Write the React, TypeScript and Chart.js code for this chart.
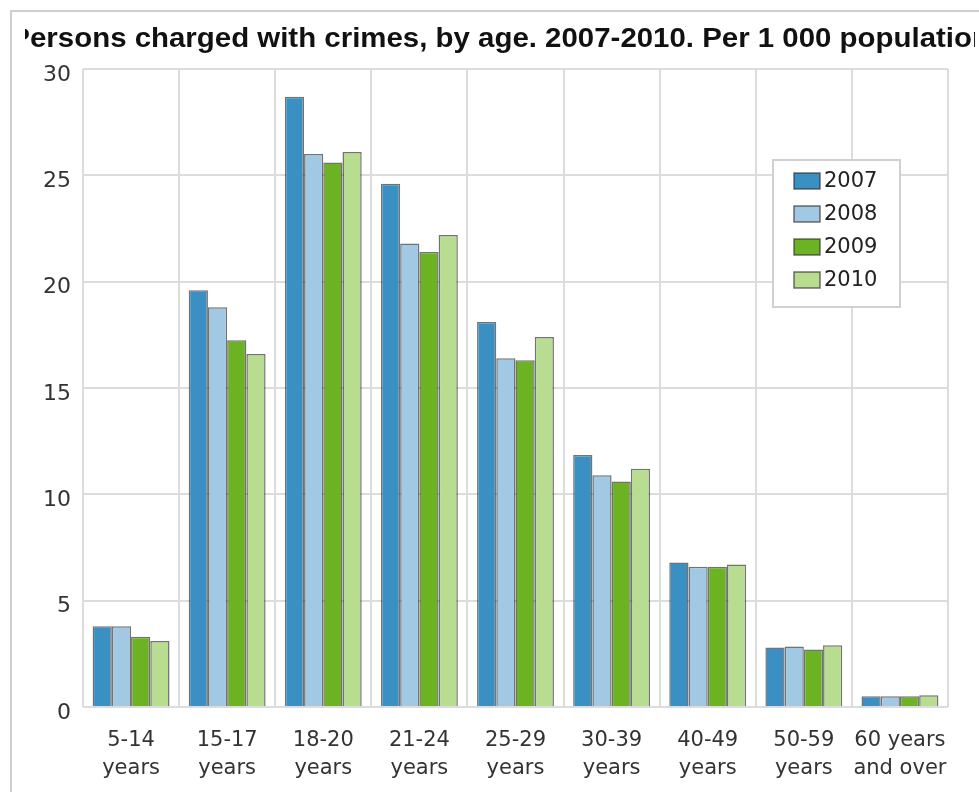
import React, { useEffect, useRef } from "react";
import { Chart, registerables } from "chart.js";

Chart.register(...registerables);

const titleText = "Persons charged with crimes, by age. 2007-2010. Per 1 000 population";
const categories: string[][] = [
  ["5-14", "years"],
  ["15-17", "years"],
  ["18-20", "years"],
  ["21-24", "years"],
  ["25-29", "years"],
  ["30-39", "years"],
  ["40-49", "years"],
  ["50-59", "years"],
  ["60 years", "and over"],
];
const seriesLabels = ["2007", "2008", "2009", "2010"];
const values2007 = [3.8, 19.6, 28.7, 24.6, 18.1, 11.85, 6.8, 2.8, 0.5];
const values2008 = [3.8, 18.8, 26.0, 21.8, 16.4, 10.9, 6.6, 2.85, 0.5];
const values2009 = [3.3, 17.25, 25.6, 21.4, 16.3, 10.6, 6.6, 2.7, 0.5];
const values2010 = [3.1, 16.6, 26.1, 22.2, 17.4, 11.2, 6.7, 2.9, 0.55];
const seriesColors = ["#3a8fc3", "#a2c9e3", "#6bb322", "#b8dc90"];
const yTicks = [0, 5, 10, 15, 20, 25, 30];

const FONT = "'DejaVu Sans', Verdana, sans-serif";
const TITLE_FONT = "'Liberation Sans', Arial, sans-serif";

const legendPlugin = {
  id: "insideLegend",
  afterDraw(chart: any) {
    const ctx = chart.ctx;
    const x0 = 773, y0 = 160, w = 127, h = 147;
    ctx.save();
    ctx.fillStyle = "#ffffff";
    ctx.fillRect(x0, y0, w, h);
    ctx.strokeStyle = "#d0d0d0";
    ctx.lineWidth = 2;
    ctx.strokeRect(x0, y0, w, h);
    ctx.font = `21px ${FONT}`;
    ctx.textBaseline = "middle";
    chart.data.datasets.forEach((ds: any, i: number) => {
      const cy = 181 + i * 33;
      ctx.fillStyle = ds.backgroundColor;
      ctx.fillRect(794, cy - 8, 26, 16);
      ctx.strokeStyle = "rgba(40,40,40,0.65)";
      ctx.lineWidth = 1.5;
      ctx.strokeRect(794, cy - 8, 26, 16);
      ctx.fillStyle = "#222";
      ctx.fillText(ds.label, 824, cy + 1);
    });
    ctx.restore();
  },
};

const framePlugin = {
  id: "frameTitle",
  beforeDraw(chart: any) {
    const ctx = chart.ctx;
    ctx.save();
    ctx.strokeStyle = "#cfcfcf";
    ctx.lineWidth = 2;
    ctx.beginPath();
    ctx.moveTo(11, 792);
    ctx.lineTo(11, 11);
    ctx.lineTo(979, 11);
    ctx.stroke();
    ctx.beginPath();
    ctx.rect(25, 12, 950, 60);
    ctx.clip();
    ctx.font = `bold 27px ${TITLE_FONT}`;
    ctx.fillStyle = "#111";
    ctx.textBaseline = "alphabetic";
    const pw = ctx.measureText("P").width;
    const wp = ctx.measureText(titleText.slice(0, titleText.length - 1)).width;
    const s = (972 - 30) / (wp - pw);
    const x = 30 - pw * s;
    ctx.translate(x, 47);
    ctx.scale(s, 1);
    ctx.fillText(titleText, 0, 0);
    ctx.restore();
  },
};

export default function App() {
  const ref = useRef<HTMLCanvasElement>(null);
  useEffect(() => {
    if (!ref.current) return;
    const data = [values2007, values2008, values2009, values2010];
    const chart = new Chart(ref.current, {
      type: "bar",
      data: {
        labels: categories,
        datasets: seriesLabels.map((l, i) => ({
          label: l,
          data: data[i],
          backgroundColor: seriesColors[i],
          borderColor: "rgba(40,40,40,0.65)",
          borderWidth: 1.5,
          categoryPercentage: 0.8,
          barPercentage: 1.0,
        })),
      },
      options: {
        animation: false,
        responsive: false,
        layout: { padding: { left: 0, right: 31, top: 69, bottom: 0 } },
        plugins: { legend: { display: false }, title: { display: false }, tooltip: { enabled: false } },
        scales: {
          x: {
            grid: { color: "#dcdcdc", lineWidth: 2, offset: true, drawTicks: false },
            border: { display: false },
            ticks: { color: "#333", font: { family: FONT, size: 21, lineHeight: 1.33 }, padding: 20, maxRotation: 0, autoSkip: false },
            afterFit(s: any) { s.height = 85; },
          },
          y: {
            min: 0,
            max: 30,
            afterBuildTicks(s: any) { s.ticks = yTicks.map((v) => ({ value: v })); },
            grid: { color: "#dcdcdc", lineWidth: 2, drawTicks: false },
            border: { display: false },
            ticks: { color: "#333", font: { family: FONT, size: 22 }, padding: 12, labelOffset: 6 },
            afterFit(s: any) { s.width = 83; },
          },
        },
      },
      plugins: [framePlugin, legendPlugin],
    });
    return () => chart.destroy();
  }, []);
  return (
    <div style={{ position: "absolute", left: 0, top: 0, width: 979, height: 792, background: "#fff" }}>
      <canvas ref={ref} width={979} height={792} style={{ display: "block" }} />
    </div>
  );
}
